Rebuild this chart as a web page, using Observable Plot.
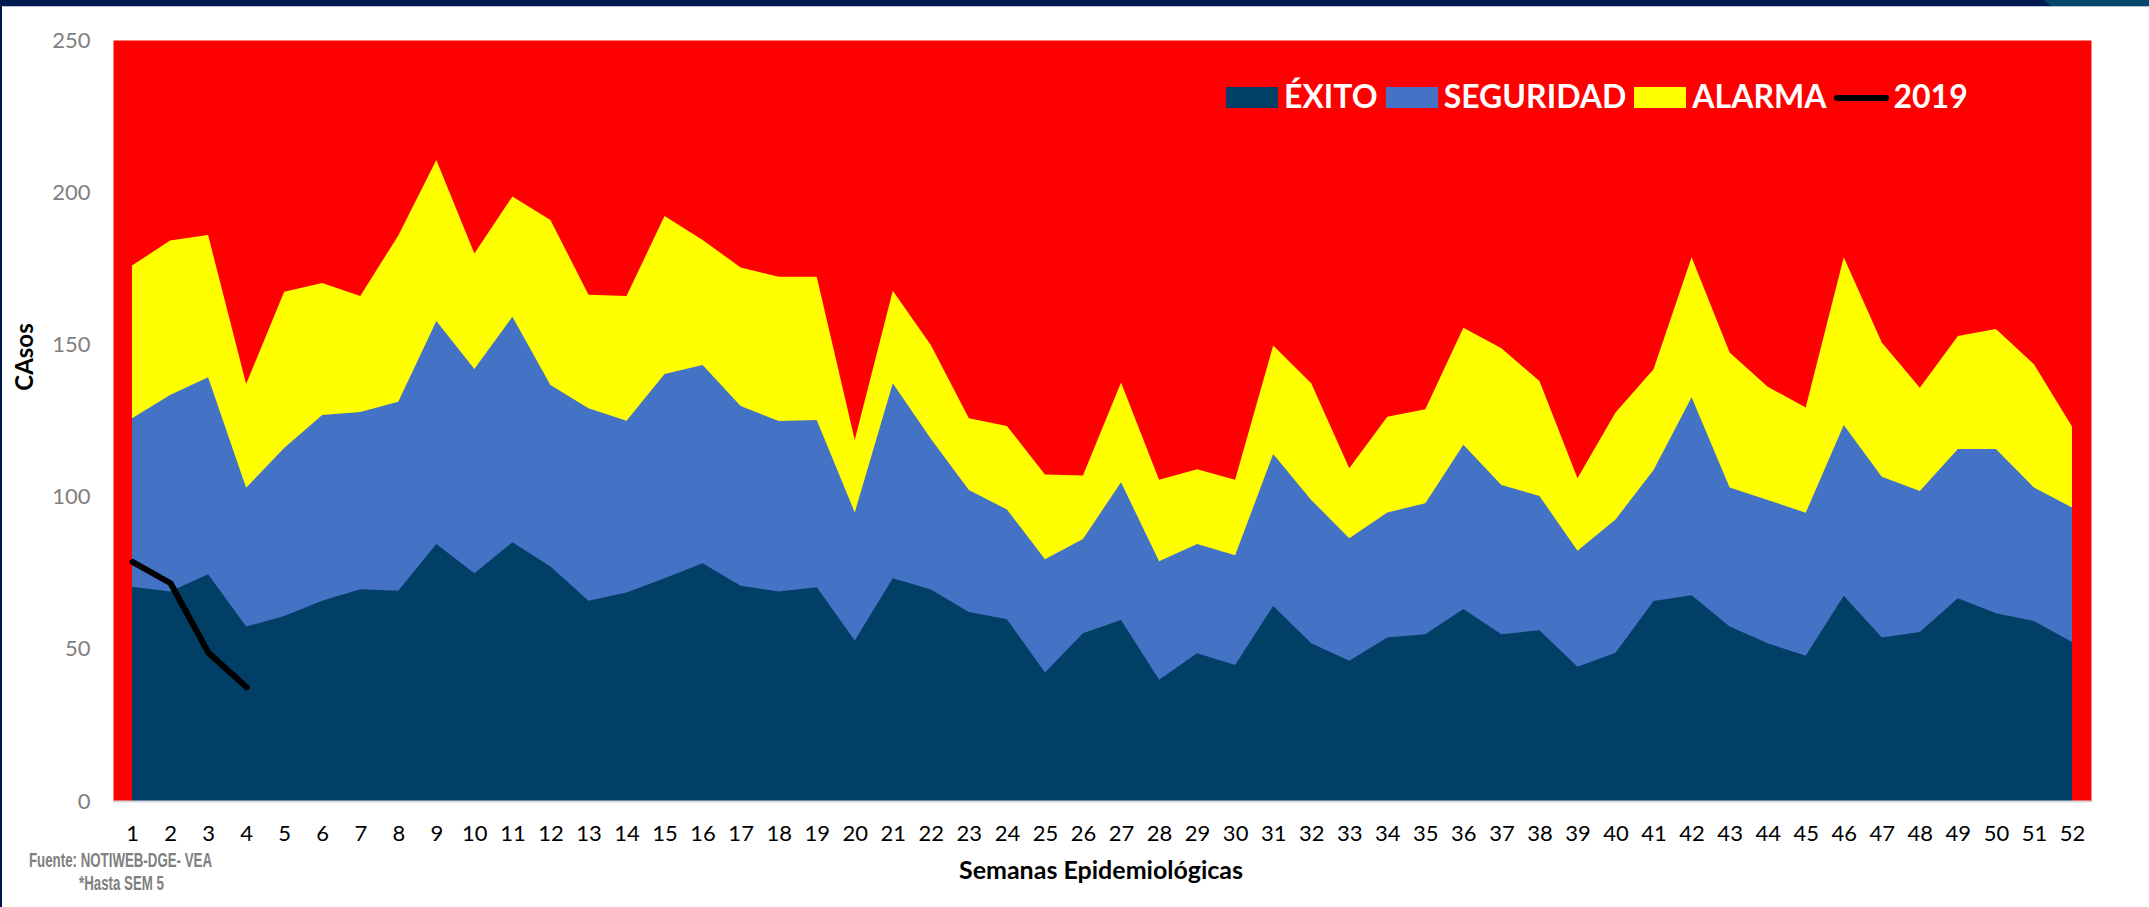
<!DOCTYPE html>
<html>
<head>
<meta charset="utf-8">
<script src="https://cdn.jsdelivr.net/npm/d3@7"></script>
<script src="https://cdn.jsdelivr.net/npm/@observablehq/plot@0.6"></script>
<style>
  html, body { margin: 0; padding: 0; background: #fff; overflow: hidden; }
  #wrap { position: relative; width: 2149px; height: 907px; font-family: Lato, "Noto Sans", sans-serif; }
  #chart { position: absolute; left: 0; top: 0; }
  .band { position: absolute; left: 0; top: 0; width: 2149px; height: 6px; background: #001a4f; }
  .bandline { position: absolute; left: 0; top: 6px; width: 2149px; height: 1px; background: #b9c1cd; }
  .teal { position: absolute; left: 2044px; top: 0; width: 105px; height: 6px; background: #05486d;
          clip-path: polygon(0 0, 100% 0, 100% 100%, 7px 100%); }
  .lborder { position: absolute; left: 0; top: 0; width: 2px; height: 907px; background: #001a4f; }
  #legend { position: absolute; left: 1226px; top: 80px; display: flex; align-items: baseline;
            font: bold 32px/32px Lato, sans-serif; color: #fff; white-space: nowrap; }
  #legend .sw { display: inline-block; width: 52px; height: 21px; margin-right: 6px; }
  #legend .lab { margin-right: 8px; }
  #legend .ln { display: inline-block; width: 55px; height: 21px; position: relative; margin-right: 4px; }
  #legend .ln::after { content: ""; position: absolute; left: 0; right: 0; top: 7.5px; height: 6px;
                       background: #000; border-radius: 3px; }
  #overlay { position: absolute; left: 0; top: 0; pointer-events: none; }
</style>
</head>
<body>
<div id="wrap">
  <div id="chart"></div>
  <div class="band"></div><div class="teal"></div><div class="bandline"></div>
  <div class="lborder"></div>
  <div id="legend"></div>
  <svg id="overlay" width="2149" height="907"></svg>
</div>
<script>
// ---- data ----
const weeks = d3.range(1, 53);
const exito = [70.4, 68.8, 74.5, 57.3, 60.8, 65.8, 69.6, 69.1, 84.4, 74.8, 85.0, 77.0, 65.8, 68.5, 73.2, 78.1,
  70.7, 68.8, 70.2, 52.7, 73.2, 69.5, 62.1, 59.7, 42.2, 55.1, 59.5, 39.8, 48.5, 44.7, 64.1, 51.8, 46.1, 53.7,
  54.8, 63.1, 54.8, 56.1, 44.1, 48.7, 65.7, 67.6, 57.3, 51.8, 47.7, 67.4, 53.7, 55.5, 66.6, 61.7, 59.1, 52.2];
const seguridad = [125.7, 133.4, 139.2, 102.9, 116.0, 126.8, 127.8, 131.2, 157.7, 141.9, 159.1, 136.7, 129.0,
  124.9, 140.3, 143.2, 129.8, 124.8, 125.2, 94.8, 137.2, 119.0, 102.2, 95.8, 79.4, 86.1, 104.7, 78.8, 84.4, 80.7,
  114.0, 98.9, 86.3, 94.8, 97.8, 117.0, 103.8, 100.2, 82.2, 92.5, 108.7, 132.6, 103.0, 98.9, 94.7, 123.5, 106.5,
  101.8, 115.6, 115.6, 103.0, 96.4];
const alarma = [175.9, 184.1, 185.9, 137.0, 167.3, 170.2, 165.9, 185.8, 210.6, 179.9, 198.6, 190.9, 166.3,
  165.9, 192.2, 184.3, 175.3, 172.2, 172.2, 118.6, 167.6, 149.8, 125.7, 123.2, 107.3, 106.9, 137.5, 105.5, 109.0,
  105.5, 149.6, 137.2, 109.3, 126.2, 128.7, 155.5, 148.7, 138.0, 106.0, 127.6, 141.8, 178.6, 147.3, 136.1, 129.3,
  178.6, 150.6, 135.8, 152.8, 155.1, 143.5, 123.0];
const cases2019 = [78.7, 71.7, 48.8, 37.5];
const yTicks = [0, 50, 100, 150, 200, 250];
const seriesNames = ["ÉXITO", "SEGURIDAD", "ALARMA", "2019"];
const seriesColors = ["#023f66", "#4472c4", "#ffff00", "#000000"];
const xTitle = "Semanas Epidemiológicas";
const yTitle = "CAsos";
const notes = ["Fuente: NOTIWEB-DGE- VEA", "*Hasta SEM 5"];

const table = weeks.map((w, i) => ({week: w, exito: exito[i], seguridad: seguridad[i], alarma: alarma[i]}));
const line2019 = cases2019.map((v, i) => ({week: weeks[i], v}));

const chart = Plot.plot({
  width: 2149,
  height: 907,
  marginTop: 40,
  marginRight: 58,
  marginBottom: 106,
  marginLeft: 113,
  style: {fontFamily: "Lato, sans-serif", fontSize: "22px", background: "transparent"},
  x: {type: "linear", domain: [0.5, 52.5]},
  y: {domain: [0, 250]},
  marks: [
    Plot.frame({fill: "#ff0000", stroke: "none"}),
    Plot.areaY(table, {x: "week", y: "alarma", fill: seriesColors[2]}),
    Plot.areaY(table, {x: "week", y: "seguridad", fill: seriesColors[1]}),
    Plot.areaY(table, {x: "week", y: "exito", fill: seriesColors[0]}),
    Plot.ruleY([0], {stroke: "#d3d7de", strokeWidth: 2}),
    Plot.line(line2019, {x: "week", y: "v", stroke: seriesColors[3], strokeWidth: 6,
      strokeLinecap: "round", strokeLinejoin: "round"}),
    Plot.axisX({ticks: weeks, tickSize: 0, tickPadding: 24, tickFormat: d => String(d), label: null, color: "#000"}),
    Plot.axisY({ticks: yTicks, tickSize: 0, tickPadding: 23, label: null, color: "#7f7f7f"})
  ]
});
document.getElementById("chart").appendChild(chart);

// legend (inside plot area, top right)
const legend = document.getElementById("legend");
seriesNames.forEach((name, i) => {
  const sw = document.createElement("span");
  if (i < 3) { sw.className = "sw"; sw.style.background = seriesColors[i]; }
  else { sw.className = "ln"; }
  legend.appendChild(sw);
  const lab = document.createElement("span");
  lab.className = "lab";
  lab.textContent = name;
  legend.appendChild(lab);
});

// titles and notes
const ov = d3.select("#overlay");
ov.append("text").attr("transform", "translate(33,357) rotate(-90)").attr("text-anchor", "middle")
  .attr("font-family", "Lato, sans-serif").attr("font-weight", "bold").attr("font-size", 24).attr("fill", "#000")
  .text(yTitle);
ov.append("text").attr("x", 1101).attr("y", 879).attr("text-anchor", "middle")
  .attr("font-family", "Lato, sans-serif").attr("font-weight", "bold").attr("font-size", 25).attr("fill", "#000")
  .text(xTitle);
ov.append("text").attr("x", 29).attr("y", 866.5).attr("textLength", 183).attr("lengthAdjust", "spacingAndGlyphs")
  .attr("font-family", "'Liberation Sans Narrow', 'Liberation Sans', sans-serif").attr("font-weight", "bold")
  .attr("font-size", 21).attr("fill", "#808080").text(notes[0]);
ov.append("text").attr("x", 79).attr("y", 890).attr("textLength", 85).attr("lengthAdjust", "spacingAndGlyphs")
  .attr("font-family", "'Liberation Sans Narrow', 'Liberation Sans', sans-serif").attr("font-weight", "bold")
  .attr("font-size", 21).attr("fill", "#808080").text(notes[1]);
</script>
</body>
</html>
